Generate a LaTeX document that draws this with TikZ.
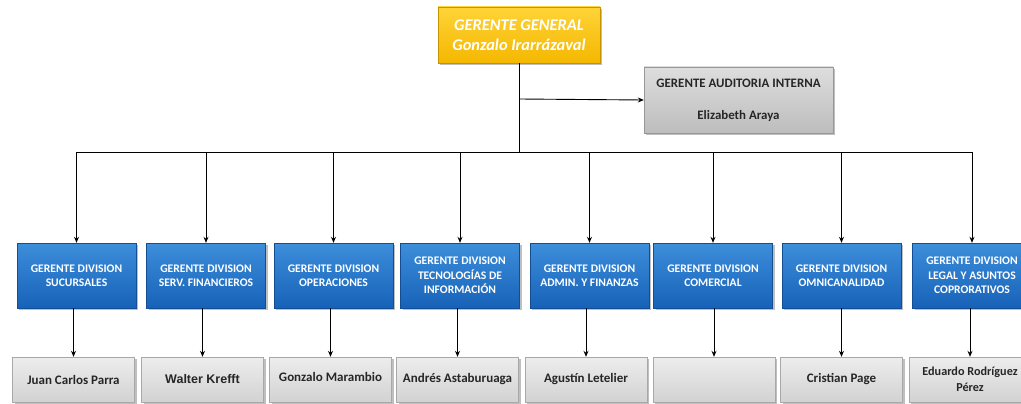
\documentclass[tikz,border=0pt]{standalone}
\usepackage{fontspec}
\setmainfont{Carlito}
\newfontfamily\arialfont{Liberation Sans}
\usetikzlibrary{arrows.meta,shadows}
\definecolor{oro}{HTML}{F4B800}
\definecolor{oroclaro}{HTML}{FFD338}
\definecolor{azul}{HTML}{1762B8}
\definecolor{azulclaro}{HTML}{3D8EDB}
\definecolor{grisbox}{HTML}{D2D2D2}
\definecolor{grisaud}{HTML}{BDBDBD}
\tikzset{
  ggbox/.style={top color=oroclaro,bottom color=oro,draw=oro!80!black,text=white,
    font=\bfseries\itshape\fontsize{16.4}{20}\selectfont,align=center,
    minimum width=162pt,minimum height=56pt,inner sep=0pt,drop shadow},
  audbox/.style={top color=grisaud!50,bottom color=grisaud,draw=grisaud!80!black,text=black!85,
    font=\bfseries\fontsize{12.9}{32}\selectfont,align=center,
    minimum width=189pt,minimum height=66pt,inner sep=0pt,drop shadow},
  divbox/.style={top color=azulclaro,bottom color=azul,draw=azul!80!black,text=white,
    font=\bfseries\fontsize{11.6}{14.5}\selectfont,align=center,
    minimum width=119pt,minimum height=65pt,inner sep=0pt,drop shadow},
  nombox/.style={top color=grisbox!40,bottom color=grisbox,draw=grisbox!80!black,text=black!85,
    font=\bfseries\fontsize{13}{17}\selectfont,align=center,
    minimum width=122pt,minimum height=45pt,inner sep=0pt,drop shadow},
  flecha/.style={->,line width=0.9pt,black}
}
\begin{document}
\begin{tikzpicture}[x=1pt,y=-1pt,>={Stealth[length=6pt,width=5pt]}]
  \useasboundingbox[fill=white] (0,0) rectangle (1021,404);
  % gerente general y auditoria
  \node[ggbox] (gg) at (519,35) {GERENTE GENERAL\\Gonzalo Irarrázaval};
  \node[audbox] (aud) at (738.5,100) {GERENTE AUDITORIA INTERNA\\Elizabeth Araya};
  \coordinate (bus) at (0,152);
  \coordinate (ramal) at (0,99);
  % divisiones
  \node[divbox] (d1) at (76.5,275.5) {GERENTE DIVISION\\SUCURSALES};
  \node[divbox] (d2) at (206,275.5) {GERENTE DIVISION\\SERV. FINANCIEROS};
  \node[divbox] (d3) at (333.5,275.5) {GERENTE DIVISION\\OPERACIONES};
  \node[divbox] (d4) at (460,275.5) {GERENTE DIVISION\\TECNOLOGÍAS DE\\INFORMACIÓN};
  \node[divbox] (d5) at (589.5,275.5) {GERENTE DIVISION\\ADMIN. Y FINANZAS};
  \node[divbox] (d6) at (713,275.5) {GERENTE DIVISION\\COMERCIAL};
  \node[divbox] (d7) at (841.5,275.5) {GERENTE DIVISION\\OMNICANALIDAD};
  \node[divbox] (d8) at (972,275.5) {GERENTE DIVISION\\LEGAL Y ASUNTOS\\COPRORATIVOS};
  % nombres
  \node[nombox] (n1) at (73.5,379.5) {Juan Carlos Parra};
  \node[nombox] (n2) at (202.5,379.5) {\arialfont\fontsize{12.5}{15}\selectfont Walter Krefft};
  \node[nombox] (n3) at (330.5,379.5) {\raisebox{5pt}{Gonzalo Marambio}};
  \node[nombox] (n4) at (457.5,379.5) {Andrés Astaburuaga};
  \node[nombox] (n5) at (586,379.5) {Agustín Letelier};
  \node[nombox] (n6) at (714,379.5) {};
  \node[nombox] (n7) at (841.5,379.5) {Cristian Page};
  \node[nombox,font=\bfseries\fontsize{12.2}{16}\selectfont] (n8) at (970,379.5) {Eduardo Rodríguez\\Pérez};
  % conectores
  \draw[line width=0.9pt] (gg.south) -- (gg.south |- bus);
  \draw[flecha] (gg.south |- ramal) -- (aud.west);
  \draw[line width=0.9pt] (d1.north |- bus) -- (d8.north |- bus);
  \draw[flecha] (d1.north |- bus) -- (d1.north);
  \draw[flecha] (d2.north |- bus) -- (d2.north);
  \draw[flecha] (d3.north |- bus) -- (d3.north);
  \draw[flecha] (d4.north |- bus) -- (d4.north);
  \draw[flecha] (d5.north |- bus) -- (d5.north);
  \draw[flecha] (d6.north |- bus) -- (d6.north);
  \draw[flecha] (d7.north |- bus) -- (d7.north);
  \draw[flecha] (d8.north |- bus) -- (d8.north);
  \draw[flecha] (d1.south -| n1) -- (n1.north);
  \draw[flecha] (d2.south -| n2) -- (n2.north);
  \draw[flecha] (d3.south -| n3) -- (n3.north);
  \draw[flecha] (d4.south -| n4) -- (n4.north);
  \draw[flecha] (d5.south -| n5) -- (n5.north);
  \draw[flecha] (d6.south -| n6) -- (n6.north);
  \draw[flecha] (d7.south -| n7) -- (n7.north);
  \draw[flecha] (d8.south -| n8) -- (n8.north);
\end{tikzpicture}
\end{document}
